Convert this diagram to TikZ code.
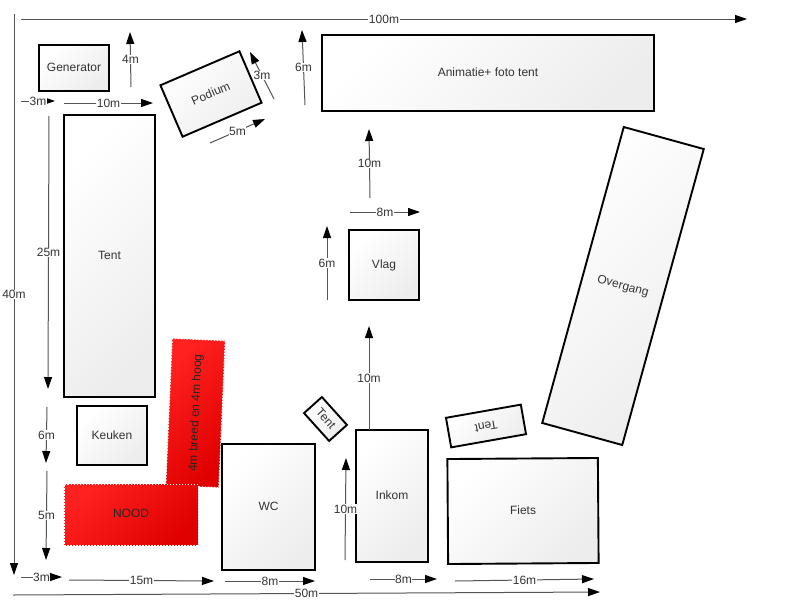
\documentclass[tikz,border=0pt]{standalone}
\usepackage{fontspec}
\setmainfont{Liberation Sans}
\usetikzlibrary{arrows.meta}
\definecolor{boxtext}{HTML}{333333}
\definecolor{linegray}{HTML}{555555}
\definecolor{reddark}{HTML}{E00000}
\definecolor{redlight}{HTML}{FF2020}
\tikzset{
  plan/.style={x=1pt,y=-1pt,font=\fontsize{12}{14}\selectfont},
  boxnode/.style={draw=black,line width=1.9pt,text=boxtext,inner sep=0pt,text depth=1.5pt,
    top color=white,bottom color=black!7,shading angle=45},
  rednode/.style={draw=white,dash pattern=on 1.5pt off 1.5pt,line width=1pt,text=black!85,inner sep=0pt,text depth=1.5pt,
    top color=redlight,bottom color=reddark,shading angle=45},
  dim/.style={draw=linegray,line width=1pt,-{Triangle[length=12pt,width=8pt,black]}},
  dimlabel/.style={fill=white,text=boxtext,inner sep=0.6pt,midway},
}
\newcommand{\dimline}[4]{%
  \coordinate (#1a) at (#2);
  \coordinate (#1b) at (#3);
  \draw[dim] (#1a) -- node[dimlabel] (#1l) {#4} (#1b);
}
\begin{document}
\begin{tikzpicture}[plan]
\useasboundingbox (0,0) rectangle (800,600);
\fill[white] (0,0) rectangle (800,600);
% boxes
\node[boxnode,minimum width=70pt,minimum height=46pt] (generator) at (74,68) {Generator};
\node[boxnode,minimum width=91pt,minimum height=282pt] (tent) at (109.5,256) {Tent};
\node[boxnode,minimum width=86pt,minimum height=56pt,rotate=23.3] (podium) at (211,94) {Podium};
\node[boxnode,minimum width=332pt,minimum height=76pt] (animatie) at (488,73) {Animatie+ foto tent};
\node[boxnode,minimum width=83pt,minimum height=307pt,rotate=-15.4] (overgang) at (623,286) {Overgang};
\node[boxnode,minimum width=70pt,minimum height=70pt] (vlag) at (384,265) {Vlag};
\node[rednode,minimum width=147pt,minimum height=53pt,rotate=87.5] (nood2) at (195.5,413) {4m breed en 4m hoog};
\node[rednode,minimum width=134pt,minimum height=61pt] (nood) at (131,514.5) {NOOD};
\node[boxnode,minimum width=70pt,minimum height=59pt] (keuken) at (112,435.5) {Keuken};
\node[boxnode,minimum width=93pt,minimum height=126pt] (wc) at (268.5,507) {WC};
\node[boxnode,minimum width=37.5pt,minimum height=24pt,rotate=-48] (tentklein) at (325.5,419) {Tent};
\node[boxnode,minimum width=72pt,minimum height=132pt] (inkom) at (392,496) {Inkom};
\node[boxnode,minimum width=76pt,minimum height=30pt,rotate=190] (tentdraai) at (486,426) {Tent};
\node[boxnode,minimum width=150.5pt,minimum height=105pt,rotate=0.4] (fiets) at (523,511) {Fiets};
% dimensions
\dimline{d100}{21,19}{747,19}{100m}
\dimline{d40}{14,14}{14,575}{40m}
\dimline{d4}{131,87}{130,32}{4m}
\dimline{d3a}{21,101}{55,101}{3m}
\dimline{d10a}{64,103}{153,103}{10m}
\dimline{d3b}{274,99}{250,52}{3m}
\dimline{d5a}{210,143}{265,119}{5m}
\dimline{d6a}{305,105}{302,30}{6m}
\dimline{d10b}{370,198}{369,129}{10m}
\dimline{d8a}{350,212}{420,212}{8m}
\dimline{d6b}{327,300}{327,226}{6m}
\dimline{d25}{49,116}{48,389}{25m}
\dimline{d6c}{47,407}{46,463}{6m}
\dimline{d5b}{47,471}{46,560}{5m}
\dimline{d3c}{21,577}{62,577}{3m}
\dimline{d15}{69,580}{214,581}{15m}
\dimline{d8b}{225,581}{315,581}{8m}
\dimline{d50}{13,595}{600,592}{50m}
\dimline{d10c}{345,560}{346,458}{10m}
\dimline{d10d}{369,430}{369,326}{10m}
\dimline{d8c}{370,579}{437,579}{8m}
\dimline{d16}{455,581}{594,579}{16m}
\end{tikzpicture}
\end{document}
